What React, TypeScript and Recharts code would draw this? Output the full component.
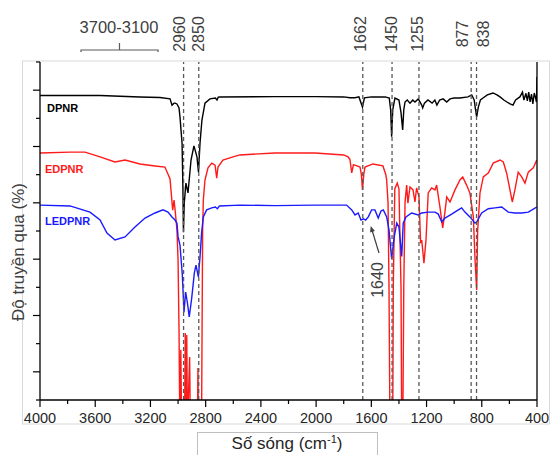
import { LineChart, Line, XAxis, YAxis, ReferenceLine } from "recharts";

const FONT = "'Liberation Sans', Arial, sans-serif";

// wavenumber (cm-1) / transmittance (arb. units, 0-120)
const DPNR_WN = [
  4000, 3565, 3276, 3131, 3058, 3044, 3029, 3022, 3008, 2993,
  2986, 2971, 2965, 2961, 2955, 2943, 2928, 2906, 2885, 2863,
  2852, 2841, 2827, 2805, 2769, 2730, 2718, 2709, 2696, 2300,
  2000, 1800, 1755, 1718, 1690, 1664, 1650, 1600, 1500, 1470,
  1460, 1453, 1445, 1429, 1400, 1385, 1373, 1365, 1356, 1340,
  1320, 1300, 1284, 1260, 1235, 1228, 1215, 1190, 1160, 1140,
  1125, 1105, 1080, 1054, 1030, 1000, 958, 900, 873, 855,
  845, 837, 825, 810, 791, 760, 719, 690, 668, 640,
  618, 595, 574, 555, 524, 505, 495, 480, 470, 460,
  450, 440, 430, 420, 410, 404, 402, 400,
];
const DPNR_T = [
  108.1, 108.1, 107.6, 107.4, 106.9, 104.7, 105.4, 105.4, 105.1, 103.7,
  100.5, 91.2, 75.6, 59.6, 70.0, 77.0, 73.5, 85.2, 90.2, 86.3,
  80.9, 91.2, 99.4, 105.4, 106.9, 107.2, 106.5, 107.5, 107.6, 107.7,
  107.7, 107.6, 107.3, 107.3, 107.6, 104.0, 107.3, 107.6, 107.6, 107.2,
  103.0, 93.5, 103.0, 107.2, 106.5, 102.0, 95.9, 103.0, 105.8, 106.5,
  105.4, 106.5, 105.8, 106.9, 104.7, 103.7, 105.4, 106.5, 105.4, 106.5,
  104.7, 106.5, 106.9, 105.8, 106.9, 107.2, 107.2, 107.6, 108.3, 106.5,
  103.0, 100.5, 104.0, 106.5, 107.2, 108.3, 109.0, 108.3, 107.6, 106.5,
  105.8, 105.1, 104.7, 106.5, 107.6, 109.3, 106.5, 108.9, 106.2, 109.3,
  105.8, 108.6, 105.1, 109.0, 107.2, 105.8, 110.0, 114.7,
];

const EDPNR_WN = [
  4000, 3783, 3674, 3565, 3457, 3384, 3276, 3167, 3095, 3058,
  3039, 3029, 3020, 3008, 3000, 2993, 2987, 2980, 2974, 2953,
  2948, 2943, 2937, 2932, 2916, 2911, 2860, 2856, 2852, 2830,
  2822, 2817, 2805, 2783, 2756, 2732, 2720, 2711, 2675, 2602,
  2551, 2298, 2008, 1800, 1769, 1755, 1742, 1730, 1718, 1682,
  1672, 1664, 1655, 1646, 1588, 1516, 1495, 1489, 1479, 1472,
  1465, 1445, 1441, 1430, 1412, 1400, 1385, 1380, 1372, 1365,
  1356, 1344, 1335, 1320, 1298, 1284, 1272, 1255, 1243, 1235,
  1219, 1204, 1188, 1163, 1139, 1127, 1103, 1083, 1067, 1054,
  1030, 994, 958, 938, 910, 886, 861, 849, 837, 830,
  813, 789, 753, 717, 668, 644, 620, 596, 579, 560,
  536, 511, 487, 463, 427, 402,
];
const EDPNR_T = [
  87.7, 88.0, 88.0, 86.3, 84.5, 85.2, 83.8, 83.1, 82.7, 78.5,
  67.4, 71.0, 66.7, 60.4, 49.7, 24.9, -10, 17.8, -10, -10,
  23.8, -10, 23.1, -10, 15.3, -10, -10, 11.4, -10, -10,
  60.0, 71.0, 78.1, 82.4, 84.1, 83.4, 78.8, 82.7, 85.2, 86.3,
  87.0, 87.7, 87.7, 87.0, 86.3, 85.5, 80.6, 83.5, 83.4, 82.7,
  80.0, 74.6, 80.0, 82.7, 83.8, 83.1, 80.0, 78.1, 70.0, 40.0,
  -10, -10, 40.0, 75.0, 77.0, 75.0, 40.0, -10, -10, 40.0,
  70.0, 76.3, 69.9, 75.6, 74.6, 70.3, 75.3, 72.1, 55.7, 56.8,
  48.6, 56.8, 73.5, 75.3, 74.6, 76.3, 68.5, 61.1, 66.7, 72.1,
  70.3, 74.6, 78.1, 79.2, 76.3, 73.5, 65.0, 50.0, 39.1, 60.0,
  73.5, 79.2, 80.6, 84.1, 85.2, 84.5, 80.6, 74.6, 70.3, 74.6,
  80.9, 79.2, 77.0, 80.9, 82.4, 85.2,
];

const LEDPNR_WN = [
  4000, 3783, 3638, 3565, 3515, 3457, 3384, 3312, 3239, 3167,
  3109, 3073, 3044, 3022, 3008, 3000, 2986, 2969, 2957, 2945,
  2933, 2919, 2901, 2882, 2870, 2853, 2841, 2829, 2817, 2793,
  2756, 2730, 2715, 2700, 2551, 2298, 2008, 1779, 1742, 1718,
  1695, 1675, 1658, 1641, 1622, 1598, 1574, 1550, 1530, 1513,
  1489, 1472, 1453, 1434, 1416, 1400, 1380, 1369, 1349, 1308,
  1260, 1235, 1188, 1139, 1115, 1090, 1067, 1018, 970, 946,
  922, 886, 849, 837, 801, 753, 704, 656, 608, 560,
  511, 463, 402,
];
const LEDPNR_T = [
  69.2, 68.9, 66.7, 63.9, 59.3, 56.8, 57.9, 61.4, 64.6, 66.4,
  67.5, 66.7, 65.0, 63.9, 62.8, 58.0, 55.0, 44.4, 31.2, 38.3,
  34.8, 29.5, 36.2, 45.1, 47.9, 43.7, 50.8, 59.6, 65.0, 67.5,
  68.2, 68.5, 67.9, 68.9, 69.2, 69.0, 69.2, 69.2, 67.5, 65.7,
  66.4, 63.9, 64.3, 63.9, 65.0, 67.5, 67.5, 64.6, 67.1, 67.5,
  65.0, 60.4, 50.2, 57.9, 62.8, 61.4, 51.0, 62.8, 65.0, 66.4,
  65.7, 66.4, 66.7, 66.7, 66.0, 63.2, 64.6, 66.0, 67.5, 68.2,
  66.7, 65.0, 62.8, 63.2, 66.4, 67.9, 68.2, 68.5, 66.7, 66.4,
  66.4, 66.7, 68.5,
];

const PEAKS = [2960, 2850, 1662, 1450, 1255, 877, 838];
const PEAK_DX = [1.5, 5, 3.5, 5, 4, -3, 12];

const X_TICKS = [
  4000, 3800, 3600, 3400, 3200, 3000, 2800, 2600, 2400, 2200,
  2000, 1800, 1600, 1400, 1200, 1000, 800, 600, 400,
];
const Y_TICKS = [0, 10, 20, 30, 40, 50, 60, 70, 80, 90, 100, 110, 120];

const zip = (wn: number[], t: number[]) => wn.map((w, i) => ({ wn: w, t: t[i] }));

function XTick({ x, y, payload }: any) {
  const major = payload.value % 400 === 0;
  return (
    <g>
      <line x1={x} x2={x} y1={y} y2={y + (major ? 7 : 4)} stroke="#000" strokeWidth={1.2} />
      {major && (
        <text x={x} y={y + 23} textAnchor="middle" fontSize={14.5} fill="#262626" fontFamily={FONT}>
          {payload.value}
        </text>
      )}
    </g>
  );
}

function YTick({ x, y, payload }: any) {
  const major = payload.value % 20 === 10;
  return (
    <g>
      <line x1={x - (major ? 7 : 4)} x2={x} y1={y} y2={y} stroke="#000" strokeWidth={1.2} />
    </g>
  );
}

const peakLabel = (text: number, dx: number) => (props: any) => {
  const vb = props.viewBox;
  const x = vb.x + dx;
  const y = vb.y - 28;
  return (
    <text
      x={x}
      y={y}
      transform={`rotate(-90 ${x} ${y})`}
      textAnchor="middle"
      fontSize={16}
      fill="#404040"
      fontFamily={FONT}
    >
      {text}
    </text>
  );
};

export default function App() {
  const dpnr = zip(DPNR_WN, DPNR_T);
  const edpnr = zip(EDPNR_WN, EDPNR_T);
  const ledpnr = zip(LEDPNR_WN, LEDPNR_T);

  return (
    <div style={{ position: "absolute", left: 0, top: 0, width: 550, height: 455, background: "#fff", fontFamily: FONT }}>
      <svg width={550} height={455} style={{ position: "absolute", left: 0, top: 0 }}>
        <rect x={22.5} y={61} width={527} height={363} fill="none" stroke="#d9d9d9" />
        <rect x={197.5} y={432.5} width={180} height={30} fill="none" stroke="#bfbfbf" />
        <text x={287} y={449} textAnchor="middle" fontSize={17} fill="#262626">
          Số sóng (cm<tspan dy={-6} fontSize={11}>-1</tspan>
          <tspan dy={6}>)</tspan>
        </text>
        <text x={24} y={252} transform="rotate(-90 24 252)" textAnchor="middle" fontSize={17} fill="#404040">
          Độ truyền qua (%)
        </text>
        <path d="M81,52 L81,50 L158,50 L158,52 M119.5,50 L119.5,43" fill="none" stroke="#595959" strokeWidth={1.2} />
        <text x={119} y={33} textAnchor="middle" fontSize={16.5} fill="#404040">
          3700-3100
        </text>
        <text x={47} y={112} fontSize={11} fontWeight="bold" fill="#000">DPNR</text>
        <text x={45} y={173} fontSize={11} fontWeight="bold" fill="#ff1a1a">EDPNR</text>
        <text x={45} y={225} fontSize={11} fontWeight="bold" fill="#1a1aff">LEDPNR</text>
        <text x={383} y={280} transform="rotate(-90 383 280)" textAnchor="middle" fontSize={16} fill="#404040">
          1640
        </text>
        <line x1={379} y1={253} x2={372} y2={230} stroke="#404040" strokeWidth={1.2} />
        <polygon points="370.7,226 374.9,231 370.1,232.5" fill="#404040" />
      </svg>
      <div style={{ position: "absolute", left: 0, top: 0 }}>
        <LineChart width={550} height={455} margin={{ top: 62, right: 13, bottom: 25, left: 30 }}>
          <XAxis
            type="number"
            dataKey="wn"
            domain={[400, 4000]}
            reversed
            allowDataOverflow
            ticks={X_TICKS}
            interval={0}
            tickSize={0}
            tickMargin={0}
            tickLine={false}
            tick={<XTick />}
            height={30}
            axisLine={{ stroke: "#000", strokeWidth: 1.3 }}
          />
          <YAxis
            type="number"
            domain={[0, 120]}
            allowDataOverflow
            ticks={Y_TICKS}
            interval={0}
            tickSize={0}
            tickMargin={0}
            tickLine={false}
            tick={<YTick />}
            width={10}
            axisLine={{ stroke: "#000", strokeWidth: 1.3 }}
          />
          <Line data={dpnr} dataKey="t" stroke="#000" strokeWidth={1.4} dot={false} isAnimationActive={false} />
          <Line data={edpnr} dataKey="t" stroke="#ff1a1a" strokeWidth={1.4} dot={false} isAnimationActive={false} />
          <Line data={ledpnr} dataKey="t" stroke="#1a1aff" strokeWidth={1.4} dot={false} isAnimationActive={false} />
          {PEAKS.map((p, i) => (
            <ReferenceLine
              key={p}
              x={p}
              stroke="#595959"
              strokeWidth={1.3}
              strokeDasharray="4 3"
              label={{ content: peakLabel(p, PEAK_DX[i]) }}
            />
          ))}
          <ReferenceLine x={400} stroke="#000" strokeWidth={1.3} />
        </LineChart>
      </div>
    </div>
  );
}
